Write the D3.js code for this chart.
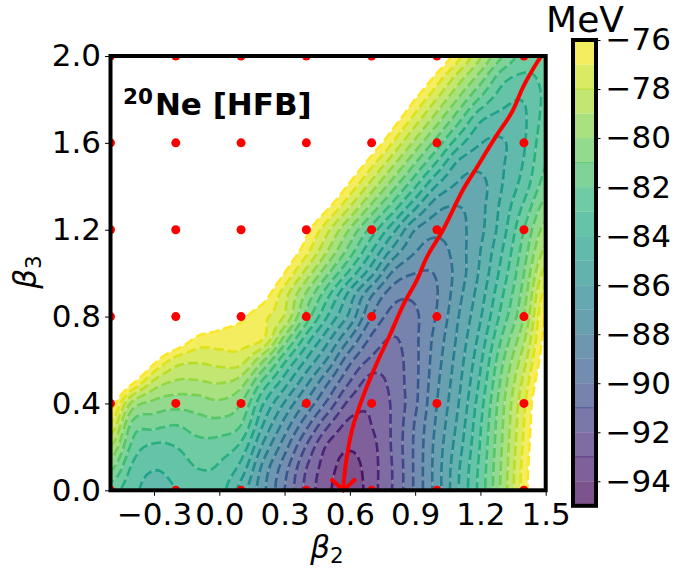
<!DOCTYPE html>
<html><head><meta charset="utf-8">
<script src="https://cdn.jsdelivr.net/npm/d3@7/dist/d3.min.js"></script>
<style>html,body{margin:0;padding:0;background:#fff}svg{display:block}text{font-family:"DejaVu Sans",sans-serif;fill:#000}</style>
</head><body><svg id="c" width="673" height="572"></svg>
<script>
const beta2Grid=[-0.5,-0.4,-0.3,-0.2,-0.1,0,0.1,0.2,0.3,0.4,0.5,0.6,0.7,0.8,0.9,1.0,1.1,1.2,1.3,1.4,1.5];
const beta3Grid=[0,0.1,0.2,0.3,0.4,0.5,0.6,0.7,0.8,0.9,1.0,1.1,1.2,1.3,1.4,1.5,1.6,1.7,1.8,1.9,2.0];
const energy=[
[-82.5,-83.7,-84.4,-84.0,-83.5,-83.6,-85.4,-87.7,-90,-92.3,-93.8,-94.7,-93.4,-91.9,-89.8,-87.5,-85,-82.6,-79.7,-76.5,-73.8],
[-80.8,-83.2,-83.95,-83.6,-83.0,-83.15,-84.4,-87.3,-89.6,-92,-93.6,-94.4,-93.4,-91.9,-89.8,-87.5,-85.1,-82.7,-79.8,-76.6,-73.9],
[-79.0,-82.3,-83.2,-83.0,-82.4,-82.5,-83.3,-86.2,-88.6,-91.1,-93.2,-93.9,-93.3,-91.8,-89.8,-87.6,-85.4,-82.9,-79.95,-76.8,-74],
[-77.1,-81.3,-81.7,-82.0,-81.5,-81.4,-82,-85,-87.4,-89.7,-91.9,-93.3,-93,-91.8,-89.9,-87.8,-85.7,-83.1,-80.1,-77,-74.1],
[-75.2,-79.3,-80.3,-80.6,-80.5,-80.2,-81,-83.9,-86.1,-88.2,-90.3,-92.3,-92.85,-91.8,-90.2,-88,-86,-83.4,-80.3,-77.2,-74.2],
[-73.0,-75.6,-78.2,-79.1,-79.1,-78.9,-79.5,-82.2,-84.5,-86.7,-88.9,-91,-92.4,-91.6,-90.25,-88.2,-86.25,-83.8,-80.7,-77.7,-74.8],
[-71,-72.5,-75.5,-77.4,-77.8,-77.6,-77.6,-79.8,-82.75,-85.1,-87.2,-89.7,-91.2,-91.4,-90.25,-88.4,-86.5,-84.2,-81.2,-78.4,-75.3],
[-69,-71,-73,-74.5,-76.2,-76.4,-76.5,-76.9,-80.3,-83.4,-85.7,-88,-90.2,-91.05,-90.2,-88.6,-86.75,-84.65,-81.9,-79.2,-75.6],
[-67,-69,-71,-73,-74,-75.2,-75.8,-76.7,-78.1,-81.4,-84.1,-86.3,-89,-90.4,-90.15,-88.9,-87,-85.1,-82.6,-80,-75.85],
[-65,-67,-69,-70.5,-71.5,-73,-74.5,-75.4,-77.6,-80.2,-82.8,-85.4,-87.9,-89.6,-89.8,-89.05,-87.3,-85.45,-83.1,-80.5,-76.5],
[-63,-65,-67,-68.5,-69.5,-71,-72.5,-73.8,-76,-78.4,-80.9,-83.3,-85.7,-88.2,-89,-88.9,-87.55,-85.8,-83.6,-81,-77.6],
[-62,-64,-66,-67.5,-68.5,-70,-71.5,-72.6,-74.6,-76.7,-79.1,-81.5,-84,-86.4,-87.95,-88.45,-87.45,-86,-84,-81.5,-78.7],
[-61,-63,-65,-66.5,-67.5,-69,-70.5,-71.8,-73.5,-75.6,-77.8,-80.1,-82.4,-84.7,-87,-87.7,-87.3,-86.25,-84.45,-82,-79.6],
[-60,-62,-64,-65.5,-66.5,-68,-69,-70,-72,-74,-75.9,-78.1,-80.4,-82.6,-84.9,-86.75,-87.05,-86.3,-84.7,-82.75,-80.5],
[-59,-61,-63,-64.5,-65.5,-67,-68,-69.5,-71,-72.2,-74.1,-76.3,-78.5,-80.7,-82.9,-85.1,-86.2,-86.3,-85,-83.5,-81.5],
[-58,-60,-62,-63.5,-64.5,-66,-67,-68.5,-70,-71,-72.8,-74.6,-76.75,-78.9,-81.1,-83.25,-85.3,-85.75,-85.1,-83.9,-82],
[-57,-59,-61,-62.5,-63.5,-65,-66,-67.5,-69,-70,-71,-72.8,-74.9,-77.1,-79.3,-81.45,-83.6,-84.95,-85.1,-84.1,-82.3],
[-56,-58,-60,-61.5,-62.5,-64,-65,-66.5,-68,-69,-70,-71.5,-73.3,-75.45,-77.6,-79.7,-81.85,-83.95,-84.45,-84.15,-82.6],
[-55,-57,-59,-60.5,-61.5,-63,-64,-65.5,-67,-68,-69,-70,-71.8,-73.8,-76,-78.05,-80.15,-82.2,-83.6,-83.95,-82.8],
[-54,-56,-58,-59.5,-60.5,-62,-63,-64.5,-66,-67,-68,-69,-70.5,-72.2,-74.2,-76.4,-78.5,-80.5,-82.6,-83.2,-82.8],
[-53,-55,-57,-58.5,-59.5,-61,-62,-63.5,-65,-66,-67,-68,-69,-70.8,-72.5,-74.6,-76.75,-78.9,-81,-82.4,-82.65]
];
const levels=[-95,-94,-93,-92,-91,-90,-89,-88,-87,-86,-85,-84,-83,-82,-81,-80,-79,-78,-77,-76];
const meshBeta2=[-0.5,-0.2,0.1,0.4,0.7,1.0,1.4];
const meshBeta3=[0,0.4,0.8,1.2,1.6,2.0];
const pathBeta2=[1.48,1.46,1.396,1.345,1.267,1.184,1.12,1.028,0.954,0.908,0.845,0.784,0.724,0.66,0.61,0.586,0.573,0.57];
const pathBeta3=[2.0,1.97,1.857,1.742,1.623,1.488,1.384,1.199,1.074,0.968,0.853,0.715,0.586,0.43,0.278,0.154,0.05,0.0];
const xTicks=[-0.3,0,0.3,0.6,0.9,1.2,1.5];
const yTicks=[0,0.4,0.8,1.2,1.6,2.0];
const barTicks=[-76,-78,-80,-82,-84,-86,-88,-90,-92,-94];
const barLineLevels=[-93,-91,-81,-78];

const svg=d3.select("#c");
const x=d3.scaleLinear().domain([-0.5,1.5]).range([110.5,545.7]);
const y=d3.scaleLinear().domain([0,2]).range([490.3,56]);
const color=t=>d3.interpolateViridis((t+95)/19);

// resample the read grid with a cubic so the contour outlines are smooth
const F=6,nx=beta2Grid.length,ny=beta3Grid.length,W=(nx-1)*F+1,H=(ny-1)*F+1;
const cub=(a,b,c,d,t)=>b+0.5*t*(c-a+t*(2*a-5*b+4*c-d+t*(3*(b-c)+d-a)));
const fine=new Float64Array(W*H);
const at=(i,j)=>energy[Math.max(0,Math.min(ny-1,j))][Math.max(0,Math.min(nx-1,i))];
for(let j=0;j<H;j++){const jj=Math.floor(j/F),tj=j/F-jj;
 for(let i=0;i<W;i++){const ii=Math.floor(i/F),ti=i/F-ii,r=[];
  for(let k=-1;k<=2;k++)r.push(cub(at(ii-1,jj+k),at(ii,jj+k),at(ii+1,jj+k),at(ii+2,jj+k),ti));
  fine[j*W+i]=cub(r[0],r[1],r[2],r[3],tj);}}
const contours=d3.contours().size([W,H]);
const proj=d3.geoTransform({point(px,py){
 this.stream.point(x(beta2Grid[0]+(px-0.5)/F*0.1),y(beta3Grid[0]+(py-0.5)/F*0.1));}});
const geo=d3.geoPath(proj);
const shapes=new Map(levels.map(l=>[l,geo(contours.contour(fine,l))]));

svg.append("clipPath").attr("id","plot").append("rect")
 .attr("x",x(-0.5)).attr("y",y(2)).attr("width",x(1.5)-x(-0.5)).attr("height",y(0)-y(2));
const g=svg.append("g").attr("clip-path","url(#plot)");
g.selectAll("path.band").data(d3.pairs(levels)).join("path").attr("class","band")
 .attr("d",([a,b])=>shapes.get(a)+shapes.get(b)).attr("fill-rule","evenodd")
 .attr("fill",([a,b])=>color((a+b)/2)).attr("fill-opacity",0.7);
g.selectAll("path.line").data(levels.slice(1)).join("path").attr("class","line")
 .attr("d",l=>shapes.get(l)).attr("fill","none").attr("stroke",l=>color(l))
 .attr("stroke-width",2.6).attr("stroke-dasharray","10 4");
g.selectAll("g.row").data(meshBeta3).join("g").attr("class","row")
 .selectAll("circle").data(b3=>meshBeta2.map(b2=>[b2,b3])).join("circle")
 .attr("cx",d=>x(d[0])).attr("cy",d=>y(d[1])).attr("r",4.5).attr("fill","#f00");
const pts=d3.range(pathBeta2.length).map(i=>[x(pathBeta2[i]),y(pathBeta3[i])]);
const tip=pts[pts.length-1];
const red=svg.append("g").attr("fill","none").attr("stroke","#f00").attr("stroke-width",4);
red.append("path").attr("clip-path","url(#plot)").attr("d",d3.line().curve(d3.curveCatmullRom)(pts));
red.append("path").attr("d",d3.line()([[tip[0]-12.5,tip[1]-11.5],tip,[tip[0]+12.5,tip[1]-11.5]]));

function styleAxis(sel){sel.selectAll(".domain").remove();
 sel.selectAll(".tick line").attr("stroke","#000").attr("stroke-width",1);
 sel.selectAll("text").attr("font-size",31).attr("font-family","DejaVu Sans").attr("fill","#000");}
const fmt=v=>(v<0?"\u2212":"")+Math.abs(v).toFixed(1);
svg.append("g").attr("transform",`translate(0,${y(0)})`)
 .call(d3.axisBottom(x).tickValues(xTicks).tickFormat(fmt).tickSize(5.5).tickPadding(7)).call(styleAxis);
svg.append("g").attr("transform",`translate(${x(-0.5)},0)`)
 .call(d3.axisLeft(y).tickValues(yTicks).tickFormat(fmt).tickSize(5.5).tickPadding(4)).call(styleAxis);
svg.append("rect").attr("x",x(-0.5)).attr("y",y(2)).attr("width",x(1.5)-x(-0.5)).attr("height",y(0)-y(2))
 .attr("fill","none").attr("stroke","#000").attr("stroke-width",4);

const tt=svg.append("text").attr("x",123).attr("y",115).attr("font-weight","bold").attr("font-size",31);
tt.append("tspan").attr("font-size",21.5).attr("dy",-11).text("20");
tt.append("tspan").attr("dy",11).attr("dx",2).text("Ne [HFB]");
function betaLabel(sel,sub){
 sel.append("tspan").attr("font-style","italic").attr("font-size",31).text("\u03b2");
 sel.append("tspan").attr("font-size",21.5).attr("dy",5).text(sub);}
svg.append("text").attr("x",327).attr("y",558).attr("text-anchor","middle").call(betaLabel,"2");
svg.append("text").attr("transform","translate(36,272) rotate(-90)").attr("text-anchor","middle").call(betaLabel,"3");

const by=d3.scaleLinear().domain([-76,-95]).range([40,505.8]);
const bx0=573,bx1=596;
const bar=svg.append("g");
bar.selectAll("rect.b").data(d3.pairs(levels)).join("rect").attr("class","b")
 .attr("x",bx0).attr("width",bx1-bx0).attr("y",([a,b])=>by(b)).attr("height",([a,b])=>by(a)-by(b))
 .attr("fill",([a,b])=>color((a+b)/2)).attr("fill-opacity",0.7);
bar.selectAll("line").data(barLineLevels).join("line").attr("x1",bx0).attr("x2",bx1)
 .attr("y1",l=>by(l)).attr("y2",l=>by(l)).attr("stroke",l=>color(l)).attr("stroke-width",1).attr("stroke-opacity",0.8);
bar.append("g").attr("transform",`translate(${bx1},0)`)
 .call(d3.axisRight(by).tickValues(barTicks).tickFormat(v=>"\u2212"+Math.abs(v)).tickSize(4.5).tickPadding(5)).call(styleAxis);
bar.append("rect").attr("x",bx0).attr("y",by(-76)).attr("width",bx1-bx0).attr("height",by(-95)-by(-76))
 .attr("fill","none").attr("stroke","#000").attr("stroke-width",4);
svg.append("text").attr("x",585).attr("y",32).attr("text-anchor","middle").attr("font-size",36).text("MeV");
</script></body></html>
